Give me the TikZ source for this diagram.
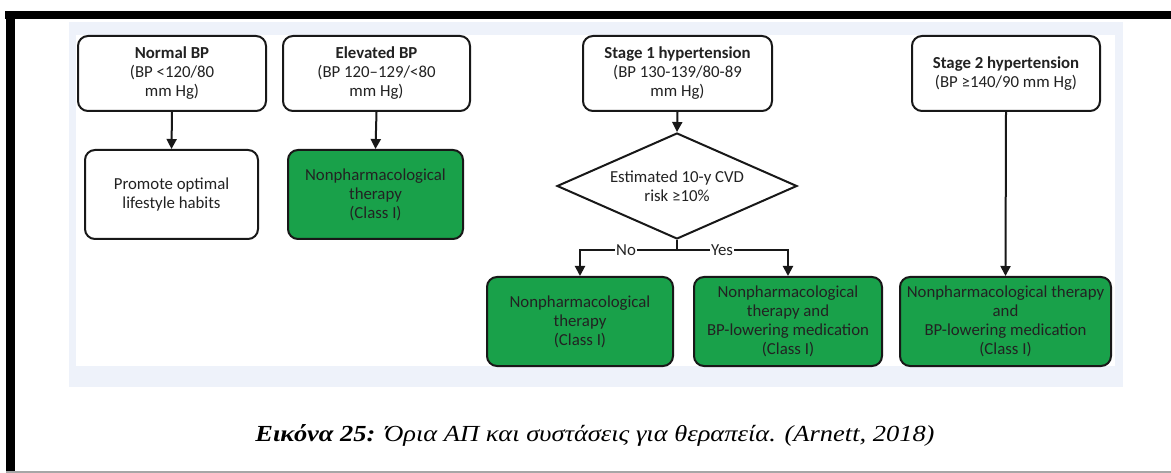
\documentclass[tikz,border=0pt]{standalone}
\usepackage{fontspec}
\setmainfont{Carlito}
\newfontfamily\capfont{Liberation Serif}
\usetikzlibrary{arrows.meta,shapes.geometric}

\definecolor{panelband}{RGB}{238,242,250}
\definecolor{boxgreen}{RGB}{25,161,74}
\definecolor{edge}{RGB}{24,24,24}
\definecolor{ink}{RGB}{34,34,34}

\tikzset{
  box/.style={draw=edge, line width=2pt, rounded corners=10pt, inner sep=0pt,
    align=center, text=ink, font=\fontsize{16.8}{19}\selectfont},
  whitebox/.style={box, fill=white},
  greenbox/.style={box, fill=boxgreen},
  arr/.style={draw=edge, line width=2pt, -{Triangle[width=10pt,length=10pt]}},
  link/.style={draw=edge, line width=2pt},
  lbl/.style={fill=white, inner sep=1pt, text=ink, font=\fontsize{16.8}{19}\selectfont}
}

\begin{document}
\begin{tikzpicture}[x=1pt,y=-1pt]
\useasboundingbox (0,0) rectangle (1171,473);

% page frame
\fill[black] (5,11) rectangle (1171,19);
\fill[black] (6,11) rectangle (15,472);
\draw[gray!70, line width=1.2pt] (6,472) -- (1171,472);

% figure panel
\fill[panelband] (69,22) rectangle (1123,387);
\fill[white] (76,35) rectangle (1115,366);

% blood pressure categories
\node[whitebox, minimum width=188pt, minimum height=75pt] (nbp) at (172,73.5)
  {\textbf{Normal BP}\\(BP <120/80\\mm Hg)};
\node[whitebox, minimum width=187pt, minimum height=75pt] (ebp) at (376.5,73.5)
  {\textbf{Elevated BP}\\(BP 120–129/<80\\mm Hg)};
\node[whitebox, minimum width=189pt, minimum height=75pt] (s1) at (677.5,73.5)
  {\textbf{Stage 1 hypertension}\\(BP 130-139/80-89\\mm Hg)};
\node[whitebox, minimum width=188pt, minimum height=75pt] (s2) at (1006,73.5)
  {\textbf{Stage 2 hypertension}\\(BP ≥140/90 mm Hg)};

% recommendations
\node[whitebox, minimum width=173pt, minimum height=89pt] (prom) at (171.5,194.5)
  {Promote optimal\\lifestyle habits};
\node[greenbox, minimum width=175pt, minimum height=89pt] (eg) at (375.5,194.5)
  {Nonpharmacological\\therapy\\(Class I)};

% risk decision
\node[diamond, draw=edge, line width=2pt, fill=white, inner sep=0pt,
  minimum width=240pt, minimum height=106pt] (dia) at (677,186) {};
\node[align=center, text=ink, font=\fontsize{16.8}{19}\selectfont] (diatext) at (dia.center)
  {Estimated 10-y CVD\\risk ≥10\%};

\node[greenbox, minimum width=186pt, minimum height=89pt] (nog) at (580,321.5)
  {Nonpharmacological\\therapy\\(Class I)};
\node[greenbox, minimum width=188pt, minimum height=89pt] (yesg) at (788,321.5)
  {Nonpharmacological\\therapy and\\BP-lowering medication\\(Class I)};
\node[greenbox, minimum width=211pt, minimum height=89pt] (s2g) at (1005.5,321.5)
  {Nonpharmacological therapy\\and\\BP-lowering medication\\(Class I)};

% connectors
\draw[arr] (nbp.south) -- (prom.north);
\draw[arr] (ebp.south) -- (eg.north);
\draw[arr] (s1.south) -- (dia.north);
\draw[arr] (s2.south) -- (s2g.north);

\coordinate (split) at (677,250);
\draw[link] (dia.south) -- (split);
\draw[arr] (split) -- (split -| nog.north) -- (nog.north);
\draw[arr] (split) -- (split -| yesg.north) -- (yesg.north);
\node[lbl] (nolbl) at (626,250) {No};
\node[lbl] (yeslbl) at (722,250) {Yes};

% caption
\node[anchor=base, inner sep=0pt, font=\capfont\fontsize{23}{27}\selectfont] (cap) at (595,441)
  {\scalebox{1.15}[1]{\textbf{\textit{Εικόνα 25:}} \textit{Όρια ΑΠ και συστάσεις για θεραπεία. (Arnett, 2018)}}};
\end{tikzpicture}
\end{document}
